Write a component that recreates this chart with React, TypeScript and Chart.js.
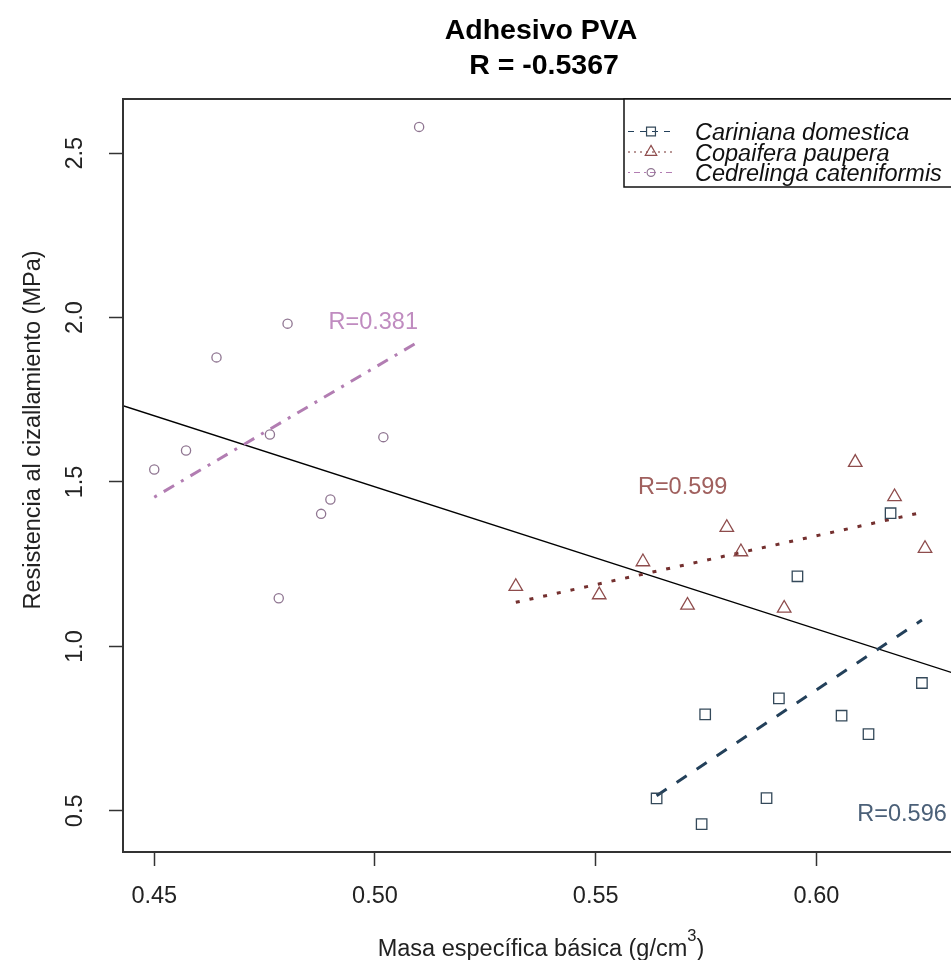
import React, { useEffect, useRef } from "react";
import { Chart, registerables } from "chart.js";

Chart.register(...registerables);

// ---------- text ----------
const titleLines = ["Adhesivo PVA", "R = -0.5367"];
const xAxisTitleMain = "Masa específica básica (g/cm";
const xAxisTitleSup = "3";
const xAxisTitleTail = ")";
const yAxisTitle = "Resistencia al cizallamiento (MPa)";

// ---------- axes ----------
const xTicks = [0.45, 0.5, 0.55, 0.6];
const xTickLabels = ["0.45", "0.50", "0.55", "0.60"];
const yTicks = [0.5, 1.0, 1.5, 2.0, 2.5];
const yTickLabels = ["0.5", "1.0", "1.5", "2.0", "2.5"];
const xRange = [0.44292, 0.6323];
const yRange = [0.3747, 2.6648];

// ---------- series ----------
const seriesNames = ["Cariniana domestica", "Copaifera paupera", "Cedrelinga cateniformis"];

const carinianaX = [0.6168, 0.5957, 0.6239, 0.5915, 0.5748, 0.6057, 0.6118, 0.5638, 0.5887, 0.574];
const carinianaY = [1.405, 1.2133, 0.8887, 0.8419, 0.7932, 0.7892, 0.7334, 0.5375, 0.5387, 0.4595];

const copaiferaX = [0.6088, 0.6177, 0.6246, 0.5797, 0.5829, 0.5607, 0.5319, 0.5508, 0.5708, 0.5927];
const copaiferaY = [1.5595, 1.455, 1.2977, 1.3616, 1.2876, 1.2572, 1.182, 1.1567, 1.1251, 1.1159];

const cedrelingaX = [0.4802, 0.4641, 0.4762, 0.4572, 0.45, 0.5019, 0.4899, 0.4878, 0.4782, 0.51];
const cedrelingaY = [1.9816, 1.879, 1.6446, 1.5959, 1.538, 1.6364, 1.4467, 1.4031, 1.1463, 2.58];

// fitted regression lines (end points)
const carinianaFitX = [0.5638, 0.6239];
const carinianaFitY = [0.546, 1.08];
const copaiferaFitX = [0.5319, 0.6246];
const copaiferaFitY = [1.134, 1.4095];
const cedrelingaFitX = [0.45, 0.51];
const cedrelingaFitY = [1.4538, 1.9277];
const overallFitX = [0.44292, 0.6323];
const overallFitY = [1.732, 0.9131];

// correlation labels (anchored in data coordinates)
const rLabels = ["R=0.596", "R=0.599", "R=0.381"];
const rLabelX = [0.6194, 0.5697, 0.4996];
const rLabelY = [0.4696, 1.4641, 1.9664];

// ---------- styles ----------
const FONT = '"Liberation Sans", Arial, Helvetica, sans-serif';
const pointColors = ["#34495a", "#8e4c4c", "#8f7591"];
const lineColors = ["#23405a", "#74302f", "#b27db2"];
const labelColors = ["#4b6078", "#a0605e", "#c08cc0"];
const dashes = [
  [12, 12],
  [4, 10],
  [3, 8, 12, 8],
];
const pointStyles = ["rect", "triangle", "circle"];
const pointRadii = [7.4, 7.8, 4.6];

const toXY = (xs: number[], ys: number[]) => xs.map((x, i) => ({ x, y: ys[i] }));

function drawSymbol(ctx: CanvasRenderingContext2D, style: string, x: number, y: number, r: number) {
  ctx.beginPath();
  if (style === "rect") {
    const s = r * Math.SQRT1_2;
    ctx.rect(x - s, y - s, 2 * s, 2 * s);
  } else if (style === "triangle") {
    for (let k = 0; k < 3; k++) {
      const a = (k * 2 * Math.PI) / 3;
      const px = x + Math.sin(a) * r;
      const py = y - Math.cos(a) * r;
      if (k === 0) ctx.moveTo(px, py);
      else ctx.lineTo(px, py);
    }
    ctx.closePath();
  } else {
    ctx.arc(x, y, r, 0, Math.PI * 2);
  }
  ctx.stroke();
}

const rPlotPlugin = {
  id: "rplot",
  afterDraw(chart: any) {
    const { ctx, chartArea: a, scales } = chart;
    const xs = scales.x;
    const ys = scales.y;
    ctx.save();

    // frame
    ctx.strokeStyle = "#333";
    ctx.lineWidth = 2;
    ctx.setLineDash([]);
    ctx.strokeRect(a.left, a.top, a.right - a.left, a.bottom - a.top);

    ctx.fillStyle = "#222";
    ctx.font = `23.5px ${FONT}`;
    ctx.textAlign = "center";
    ctx.textBaseline = "alphabetic";

    // x tick labels
    xTicks.forEach((v, i) => {
      ctx.fillText(xTickLabels[i], xs.getPixelForValue(v), a.bottom + 51);
    });

    // y tick labels (rotated, R style)
    yTicks.forEach((v, i) => {
      ctx.save();
      ctx.translate(a.left - 41, ys.getPixelForValue(v));
      ctx.rotate(-Math.PI / 2);
      ctx.fillText(yTickLabels[i], 0, 0);
      ctx.restore();
    });

    // y axis title
    ctx.save();
    ctx.translate(40, 430);
    ctx.rotate(-Math.PI / 2);
    ctx.fillText(yAxisTitle, 0, 0);
    ctx.restore();

    // x axis title with superscript
    const cx = (a.left + a.right) / 2;
    ctx.font = `23.5px ${FONT}`;
    const wMain = ctx.measureText(xAxisTitleMain).width;
    const wTail = ctx.measureText(xAxisTitleTail).width;
    ctx.font = `16.5px ${FONT}`;
    const wSup = ctx.measureText(xAxisTitleSup).width;
    let sx = cx - (wMain + wSup + wTail) / 2;
    ctx.textAlign = "left";
    ctx.font = `23.5px ${FONT}`;
    ctx.fillText(xAxisTitleMain, sx, 956);
    sx += wMain;
    ctx.font = `16.5px ${FONT}`;
    ctx.fillText(xAxisTitleSup, sx, 941);
    sx += wSup;
    ctx.font = `23.5px ${FONT}`;
    ctx.fillText(xAxisTitleTail, sx, 956);

    // main title
    ctx.fillStyle = "#000";
    ctx.textAlign = "center";
    ctx.font = `bold 28.5px ${FONT}`;
    ctx.fillText(titleLines[0], cx, 38.5);
    ctx.fillText(titleLines[1], cx + 3, 73.5);

    // correlation labels
    ctx.font = `23.5px ${FONT}`;
    rLabels.forEach((t, i) => {
      ctx.fillStyle = labelColors[i];
      ctx.fillText(t, xs.getPixelForValue(rLabelX[i]), ys.getPixelForValue(rLabelY[i]));
    });

    // legend
    const lx = 624;
    const ly = a.top;
    ctx.fillStyle = "#fff";
    ctx.fillRect(lx, ly, 400, 88);
    ctx.strokeStyle = "#111";
    ctx.lineWidth = 1.5;
    ctx.strokeRect(lx, ly, 400, 88);
    const baselines = [140, 160.5, 181];
    seriesNames.forEach((name, i) => {
      const yc = baselines[i] - 8.5;
      ctx.strokeStyle = lineColors[i];
      ctx.lineWidth = 1.2;
      ctx.setLineDash(i === 1 ? [2, 4] : i === 0 ? [6, 6] : [2, 4, 6, 4]);
      ctx.beginPath();
      ctx.moveTo(628, yc);
      ctx.lineTo(676, yc);
      ctx.stroke();
      ctx.setLineDash([]);
      ctx.strokeStyle = pointColors[i];
      ctx.lineWidth = 1.2;
      drawSymbol(ctx, pointStyles[i], 651, yc, pointRadii[i] * 0.85);
      ctx.fillStyle = "#111";
      ctx.textAlign = "left";
      ctx.font = `italic 23.5px ${FONT}`;
      ctx.fillText(name, 695, baselines[i]);
    });

    ctx.restore();
  },
};

export default function App() {
  const canvasRef = useRef<HTMLCanvasElement | null>(null);

  useEffect(() => {
    if (!canvasRef.current) return;

    const pointSet = (i: number, xs: number[], ys: number[]) => ({
      type: "scatter" as const,
      label: seriesNames[i],
      data: toXY(xs, ys),
      showLine: false,
      pointStyle: pointStyles[i],
      pointRadius: pointRadii[i],
      pointBorderWidth: 1.3,
      pointBorderColor: pointColors[i],
      pointBackgroundColor: "rgba(0,0,0,0)",
      borderColor: pointColors[i],
      backgroundColor: "rgba(0,0,0,0)",
    });
    const fitSet = (label: string, xs: number[], ys: number[], color: string, width: number, dash: number[]) => ({
      type: "line" as const,
      label,
      data: toXY(xs, ys),
      showLine: true,
      borderColor: color,
      borderWidth: width,
      borderDash: dash,
      pointRadius: 0,
      fill: false,
    });

    const chart = new Chart(canvasRef.current, {
      type: "scatter",
      data: {
        datasets: [
          pointSet(0, carinianaX, carinianaY),
          pointSet(1, copaiferaX, copaiferaY),
          pointSet(2, cedrelingaX, cedrelingaY),
          fitSet("fit Cariniana", carinianaFitX, carinianaFitY, lineColors[0], 3, dashes[0]),
          fitSet("fit Copaifera", copaiferaFitX, copaiferaFitY, lineColors[1], 3, dashes[1]),
          fitSet("fit Cedrelinga", cedrelingaFitX, cedrelingaFitY, lineColors[2], 3, dashes[2]),
          fitSet("fit total", overallFitX, overallFitY, "#000", 1.3, []),
        ] as any,
      },
      options: {
        responsive: false,
        devicePixelRatio: 1,
        animation: false,
        layout: { padding: { left: 0, top: 99, right: 21, bottom: 0 } },
        plugins: {
          legend: { display: false },
          title: { display: false },
          tooltip: { enabled: false },
        },
        scales: {
          x: {
            type: "linear",
            min: xRange[0],
            max: xRange[1],
            afterBuildTicks: (s: any) => {
              s.ticks = xTicks.map((v) => ({ value: v }));
            },
            afterFit: (s: any) => {
              s.height = 108;
            },
            ticks: { display: false },
            grid: {
              drawOnChartArea: false,
              drawTicks: true,
              tickLength: 14,
              tickColor: "#333",
              tickWidth: 1.5,
            },
            border: { display: false },
          },
          y: {
            type: "linear",
            min: yRange[0],
            max: yRange[1],
            afterBuildTicks: (s: any) => {
              s.ticks = yTicks.map((v) => ({ value: v }));
            },
            afterFit: (s: any) => {
              s.width = 123;
            },
            ticks: { display: false },
            grid: {
              drawOnChartArea: false,
              drawTicks: true,
              tickLength: 14,
              tickColor: "#333",
              tickWidth: 1.5,
            },
            border: { display: false },
          },
        },
      } as any,
      plugins: [rPlotPlugin],
    });

    return () => chart.destroy();
  }, []);

  return (
    <div
      style={{
        position: "fixed",
        left: 0,
        top: 0,
        width: 951,
        height: 960,
        overflow: "hidden",
        background: "#fff",
      }}
    >
      <canvas ref={canvasRef} width={980} height={960} style={{ display: "block", width: 980, height: 960 }} />
    </div>
  );
}
